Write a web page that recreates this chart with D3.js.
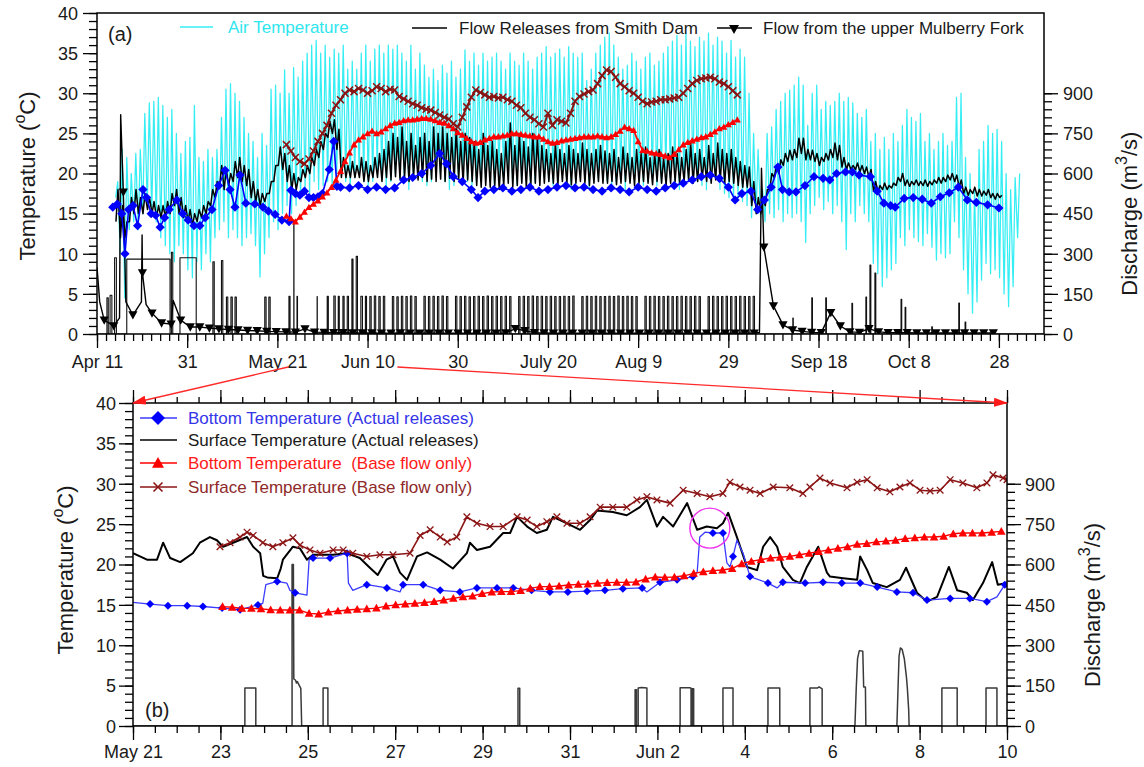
<!DOCTYPE html>
<html>
<head>
<meta charset="utf-8">
<script src="https://cdn.jsdelivr.net/npm/d3@7"></script>
<style>
  body { margin: 0; background: #fff; }
  svg { display: block; }
</style>
</head>
<body>
<script>
// ================= DATA =================
// Top panel: days counted from Apr 11
const topTickDays = [0, 20, 40, 60, 80, 100, 120, 140, 160, 180, 200];
const topTickLabels = ["Apr 11", "31", "May 21", "Jun 10", "30", "July 20", "Aug 9", "29", "Sep 18", "Oct 8", "28"];

// Bottom panel: days counted from May 21
const botTickDays = [0, 2, 4, 6, 8, 10, 12, 14, 16, 18, 20];
const botTickLabels = ["May 21", "23", "25", "27", "29", "31", "Jun 2", "4", "6", "8", "10"];

// Air temperature: daily maximum / minimum (°C), first day = 4
const airFirstDay = 4;
const airMax = [
  19,23,22,20,22.5,23,27.5,28.8,29,29.5,
  28.5,27,28,25,22.5,24,24.5,28.5,22,21.5,
  23,22,23,27,30.5,31.2,30,29,27,25,
  24,22,25,23.5,30.5,31,30,32.9,30,33.2,
  32,34,35,36,36.6,35,36,34.5,35.5,35,
  36,33,34,33,35,36,34,35.5,36,35,
  36,35.5,36,35,34,36,33,35,33.5,32,
  33,31.6,33.5,32.5,34,32,33,35.4,34,35,
  33.5,35,34,34.5,35,34,33,35,34,33.5,
  35,34,33,34.5,35,35.8,34.5,35,35.5,34.5,
  35.8,35,34.5,35,31.6,33,35,36,37,37.5,
  36,34.5,33,33.5,35,34,33,34.5,35,33.5,
  34,35,35.8,36.5,37.2,36,37.5,36.5,35.8,37,
  36.5,37.5,36,37,36.5,35,36.6,34.5,35.5,34.5,
  30,25,23,18,25,25.8,28,29,30,30.4,
  31,32,31,26,30,31,28,29,28.5,29,
  30,29,29.5,28.8,27.5,27,28,24,25,23,
  24.5,23,25,24,26,28,27,26.5,27.5,24,
  25,23,24,25,23.5,24,29.5,30,22,20,
  18,23,24,26,25,25.5,24,20,18,19.5,20
];
const airMin = [
  17,10,4.5,13,14,13,15,16,15,14,
  12,11,10,9,11,10,8,7,9,8,
  10,9,12,13,14,12,13,12,11,12,
  12.5,11,7.1,10,12,14,13,15,16,15,
  16,17,18,17.5,19,18,18.5,19,18,19.5,
  20,19,18,19.5,20,19,18.5,19,20,19.5,
  18,19,20,19.5,19,18,19.5,20,19,18.5,
  19,19.5,20,19,18,18.5,19.5,20,19,18.5,
  19,20,19.5,19,18,19,19.5,20,19,18.5,
  19,19.5,18,19,20,19.5,19,18.5,19,20,
  19,18,18.5,19.5,19,18,19,19.5,20,19,
  18.5,19,19.5,18,19,20,19,18.5,19,19.5,
  18.5,19,20,19.5,19,18,18.5,19,19.5,19,
  18.5,18,19,19.5,18,17.5,17,16.5,17,16.5,
  16,14.5,15,14.6,14,15,14.5,15.5,14,15,
  14.5,15,14,11.4,15,16,17,15.5,16.5,15,
  16,14,10.5,15,14,16,15,14,8.8,7.5,
  5.9,7,8,8.8,12,11,13,12,11.5,11,
  12.5,10.8,9.2,10,9.5,10,14,12,8,5,
  2.6,4,6.7,8.8,7.5,8,7,5,3.4,5.9,12
];

// Surface temperature, actual releases (top panel): daily high / low, first day = 4
const surfTopFirstDay = 4;
const surfTopHi = [
  18,16,14,17,18,17,17.5,17,16.5,16,
  16,16.5,17.5,18,17,16,15.5,15,15.5,16,
  16.5,18,19,21,20.5,20,21.5,22,21,20.5,
  19,18,17.5,17.5,19,21,23.3,22.5,21,20,
  19.5,20.5,21,22,23,24,25,26.5,26.7,25.5,
  22,21,21.5,21,22,21.5,21,22,22.5,
  23,24,25,24.5,25.8,24,25,23.5,24.5,25,24,25.8,25,
  25.8,25,24.5,25.5,24,25,24.5,
  24,23,25,23.5,24,23,22.5,
  24,26.3,23.5,25,24,23.3,25,24.5,23.5,
  23,22.5,23.8,23,22.5,23.5,23,22.5,23.8,23,22.5,23,23.5,22.8,
  22.5,23,22,23.3,22.5,22,23,22.5,23.3,22,22.5,23,22,22.5,23.3,22.5,22,
  23,23.8,22.5,23,22,23.5,22.5,23.8,23,22.5,23,22,21.5,
  21,20.8,19,17,16.7,18,20,21,21.7,22.5,
  22.9,23,24.4,24.4,23,22.9,22.5,22,22.5,23,
  23.8,23.5,22,21.3,21,21.3,21,20.8,20.5,19,
  18.5,18.8,18.5,18.8,19.5,20,19.2,19,19.2,19,
  19.2,19,19.2,19.5,19.5,19.8,20,19.8,19.2,18.3,
  18,18.3,18,17.8,18,17.5,17.5,17.3
];
const surfTopLo = [
  14,12,12,14,15,15,15,15.5,15,14.5,
  14.5,14.5,15,16,15,14.5,14,13.5,14,14.5,
  15,16,17,18.5,18,18.5,19,19.5,19,18.5,
  17,16.5,16,16.5,17.5,19,21,20.5,19,18,
  18,19,19.5,20,21,22,23,24.5,25,23,
  19.5,19.5,19.5,19.5,19.5,19,19,19.5,19.5,
  19,19.5,19.2,19.6,19.3,19.5,19,19.6,19.2,19.5,19,19.3,19,
  19.3,19,19.4,19,19.3,18.8,19.2,
  19,18.5,18.3,18.5,18.3,18.5,18,
  18.5,18.8,18.3,18.5,18.8,18.3,18.5,18.8,18.5,
  18.8,19,18.8,18.5,19,18.8,18.6,18.8,19,18.8,18.5,18.8,19,18.8,
  18.8,19,18.6,18.8,19,18.8,18.5,18.8,19,18.8,18.6,19,18.8,18.5,18.8,19,18.8,
  19,19.2,18.8,19,19.3,19,18.8,19.2,19,18.8,19,18.8,18.5,
  18.3,18.3,16,15,15,16,18,19.5,20,21,
  21.5,21.7,22,22.5,21.7,21.7,21.5,21,21.5,21.7,
  22,21.7,20.8,20.5,20.5,20.5,20.2,20,19.5,17.8,
  17.8,18,18,18.2,18.5,19,18.5,18.4,18.6,18.5,
  18.5,18.4,18.6,18.8,18.8,19,19.2,19,18.3,17.5,
  17.3,17.5,17.2,17.2,17.3,17,16.8,17
];

// Bottom temperature, actual releases (top panel)
const blueTopDay = [
  3.5,4.5,5.5,6.2,7,8,9,10.2,11,12,13,14,15,16,17.7,
  19,20.2,21.5,22.8,24,25.5,27,28.4,29.5,30.6,31.7,33,35,36.8,38,39.5,41,
  42.6,43,44,45,46,47,48,49,50,51.5,52.5,53.2,54,
  56,58,60,62,64,66,68,70,72,74,76,
  77.5,79,81,83,84.5,
  86,88,90,92,94,96,98,100,102,104,106,108,110,112,114,116,118,120,122,124,126,128,130,132,134,136,138,140,
  141.5,143,145,146.5,148,149.5,151,152,153.5,155,
  157,159,161,162.5,164,166,167.5,169,171.5,173,174.5,176,177,179,181,183,185,187,189,191,193,195,197.5,200
];
const blueTopT = [
  15.8,16.2,15,10,15.5,16,13.5,18,17,15,14.8,13.3,14.5,15.5,16.7,
  15,14.2,13.5,13.5,14.5,15.5,18.5,20.4,18,15.8,19.8,16.3,16.2,15.8,15.3,14.9,14.2,
  14,17.9,17.5,17.3,17.8,17,17,17.1,17.5,20.5,24,18.4,18.3,
  18.2,18.5,18,18.3,18,18.2,19.2,19.5,20,21,22.5,
  21.2,19.6,19,18,17,
  17.8,18,18.2,17.8,18,18.3,17.8,18,18.3,18.5,18.2,18.3,18,17.8,18.2,18,17.7,18.3,18,17.8,18.2,18.5,18.8,19.2,19.6,19.8,19.4,18.3,
  16.7,17.5,17.8,15.5,16.7,18.3,20.8,18,17.7,17.7,
  18.5,19.6,19.4,19.2,20,20.2,20.2,19.8,19.6,17.8,16.3,16,15.8,16.9,17,16.8,16.3,17.1,17.6,18.3,16.7,16.4,16.1,15.7
];

// Bottom temperature, base flow only (top panel): daily, first day = 42
const redTopFirstDay = 42;
const redTopT = [
  14.7,14.4,14.0,14.6,15.2,15.8,16.2,16.6,17.1,17.6,
  18.3,19.2,20.3,21.5,22.6,23.6,24.2,24.6,25,25.3,
  25,25.2,25.6,26,26.3,26.4,26.6,26.7,26.7,26.8,
  26.9,26.9,26.8,26.6,26.4,26.3,26,25.6,25.1,24.8,
  24.4,24,23.8,23.9,24.2,24.4,24.6,24.6,24.7,24.8,
  25,25,24.9,24.8,24.7,24.6,24.6,24.3,24,23.8,
  23.9,24.1,24.2,24.3,24.4,24.5,24.6,24.6,24.6,24.7,
  24.6,24.5,24.6,24.9,25.3,25.8,25.6,25.4,24,22.9,
  22.8,22.6,22.5,22.4,22.2,22,22.4,23,23.6,23.9,
  24.1,24.3,24.5,24.6,24.9,25.2,25.6,25.8,26.1,26.4,26.7
];

// Surface temperature, base flow only (top panel): daily, first day = 42
const maroonTopFirstDay = 42;
const maroonTopT = [
  23.6,22.8,22,21.5,21.2,21.8,22.8,24,25,26,
  27.5,28.5,29.2,30,30.4,30.2,30.6,30.4,30,30.3,
  30.8,30.6,30.2,30.5,30.4,29.6,29.3,29,28.7,28.5,
  28.2,28,27.9,27.6,27.3,27,26.8,26.2,25.8,27,
  28.3,29.5,30.4,30.1,29.8,29.5,29.6,29.4,29.5,29.2,
  29,28.5,28.2,27.5,27,26.7,26.2,25.8,27.5,26,
  26.7,26.5,26.3,27.5,29,29.6,29.9,30.2,30.4,31.2,
  32.2,32.9,32.7,32,31.2,30.8,30.3,30,29.5,29,
  28.7,28.9,29,29.2,29.2,29.3,29.4,29.5,30,30.6,
  31.2,31.6,31.8,31.9,32,31.8,31.4,31.2,30.8,30.3,29.8
];

// Flow releases from Smith Dam (top panel): [start day, end day, m3/s]
const releaseTop = [
  [2.2,2.5,135],[2.9,3.3,145],[3.9,4.3,285],[6.6,16.2,280],[16.5,16.8,305],[18.4,22,285],
  [25.7,26,270],[27.6,27.9,275],[28.7,29,138],[29.7,30,138],[30.6,30.9,138],
  [37.2,37.5,138],[38.1,38.4,138],
  [42.56,42.81,141],[43.64,43.68,425],[44.35,44.46,141],[48.81,48.85,140],
  [51.05,51.3,141],[52.52,52.83,142],[53.5,53.73,141],[54.53,54.8,141],[55.49,55.77,141],
  [56.52,56.77,280],[57.48,57.76,290],[58.51,58.86,141],[59.52,59.77,141],
  [60.5,60.8,140],[61.5,61.8,142],[62.5,62.8,140],[63.5,63.8,141],[65.5,65.8,140],[66.5,66.8,139],
  [67.5,67.8,141],[68.5,68.8,140],[69.5,69.8,142],[70.5,70.8,140],[72.5,72.8,141],[73.5,73.8,140],
  [74.5,74.8,141],[75.5,75.8,140],[76.5,76.8,142],[77.5,77.8,140],[79.5,79.8,141],[80.5,80.8,140],
  [81.5,81.8,141],[82.5,82.8,139],[83.5,83.8,140],[84.5,84.8,141],[85.5,85.8,140],[86.5,86.8,142],
  [87.5,87.8,140],[88.5,88.8,141],[89.5,89.8,140],[90.5,90.8,141],[91.5,91.8,140],[93.5,93.8,140],
  [94.5,94.8,141],[95.5,95.8,140],[96.5,96.8,142],[97.5,97.8,140],[98.5,98.8,141],[99.5,99.8,140],
  [100.5,100.8,141],[101.5,101.8,140],[102.5,102.8,140],[103.5,103.8,141],[104.5,104.8,140],[105.5,105.8,142],
  [107.5,107.8,140],[108.5,108.8,141],[109.5,109.8,140],[110.5,110.8,141],[111.5,111.8,140],[112.5,112.8,140],
  [113.5,113.8,141],[114.5,114.8,140],[115.5,115.8,142],[116.5,116.8,140],[117.5,117.8,141],[118.5,118.8,140],
  [119.5,119.8,140],[121.5,121.8,141],[122.5,122.8,140],[123.5,123.8,141],[124.5,124.8,140],[125.5,125.8,140],
  [126.5,126.8,141],[127.5,127.8,140],[128.5,128.8,140],[129.5,129.8,141],[130.5,130.8,140],[131.5,131.8,140],
  [132.5,132.8,141],[133.5,133.8,140],[135.5,135.8,140],[136.5,136.8,141],[137.5,137.8,140],[138.5,138.8,140],
  [139.5,139.8,141],[140.5,140.8,140],[141.5,141.8,140],[142.5,142.8,141],[143.5,143.8,140],[144.5,144.8,140],
  [145.5,145.8,141],
  [154.3,154.4,60],[158.5,158.65,135],[161.6,161.75,135],[167.4,167.55,115],[170.5,170.65,138],
  [171.4,171.6,258],[172.5,172.7,228],[178.3,178.45,130],[179.2,179.35,100],[185.1,185.25,27],
  [191.1,191.25,116],[192.5,192.65,45]
];

// Flow from the upper Mulberry Fork (top panel): marked values every 2.12 days from day 1.6
const mulberryFirstDay = 1.6;
const mulberryStep = 2.12;
const mulberryQ = [
  52,30,530,71,228,78,41,37,52,26,26,22,19,17,15,13,12,10,9,8,7,19,7,6,
  5,5,4,4,4,3,3,4,3,3,3,3,3,3,3,3,3,3,4,20,12,5,4,3,3,3,3,3,3,3,3,3,3,3,3,3,3,3,3,3,3,3,3,3,3,
  325,105,34,15,10,6,5,80,30,8,6,20,8,5,5,5,4,4,4,4,4,4,4,4,4
];
// unmarked peak readings between the marked values: [day, m3/s]
const mulberryPeaks = [[0,250],[0.6,120],[5.0,60],[5.25,820],[6.4,120],[9.85,120],[10.0,370],[10.9,110],[16.9,125],[146.9,6],[147.35,620]];

// Bottom panel (days from May 21)
const surfBot = [
  [0,21.4],[0.32,20.6],[0.55,20.6],[0.69,22.7],[0.85,20.8],[1.08,20.3],[1.37,21.4],[1.53,22.7],[1.76,23.4],[1.92,23],
  [2.06,22.2],[2.29,22.7],[2.61,23.4],[2.75,22.2],[2.91,21.4],[2.98,18.6],[3.07,18.4],[3.3,18.3],[3.38,19.5],[3.43,20.6],
  [3.66,22.2],[3.82,22],[3.98,20.6],[4.12,21.2],[4.35,21.2],[4.58,21.2],[4.9,21.4],[5.19,20.8],[5.42,19.6],[5.6,18.7],
  [5.8,20.6],[5.95,21],[6.11,19],[6.27,18.1],[6.5,21],[6.73,21.5],[7.03,20.6],[7.32,19.5],[7.64,21.4],[7.71,22.7],
  [7.87,21.8],[8.17,22.2],[8.47,23.9],[8.63,23.9],[8.79,25.9],[9.02,24.7],[9.24,23.9],[9.47,24.3],[9.61,25.9],[9.93,25.1],
  [10.23,24.3],[10.46,25.5],[10.62,26.7],[10.98,26.5],[11.3,26.1],[11.6,27.1],[11.76,28],[11.99,24.7],[12.13,25.9],[12.36,24.7],
  [12.68,27.6],[12.91,24.3],[13.13,24.7],[13.36,24.5],[13.5,25.1],[13.62,26.4],[13.82,23.4],[14.05,19.7],[14.28,19.3],[14.42,22.2],
  [14.58,23.4],[14.74,22.2],[14.87,19.7],[15.1,18.1],[15.26,17.7],[15.42,19.7],[15.68,22.2],[15.88,19],[15.95,18.5],[16.25,18.3],
  [16.57,18.1],[16.64,21],[16.8,19.3],[16.93,17.7],[17.25,17.2],[17.55,18.1],[17.69,19.6],[17.94,16.5],[18.17,15.4],[18.4,16],
  [18.67,19.7],[18.86,16.8],[19.08,16.5],[19.22,15.6],[19.45,17.7],[19.66,20.3],[19.79,17.5],[20,17.7]
];
const blueBot = [
  [0,15.3],[0.39,15.1],[0.8,14.9],[1.24,14.9],[1.6,14.8],[2.04,14.6],[2.45,14.4],[2.86,15],[2.97,15.2],[3.04,17.5],
  [3.3,17.9],[3.52,17.7],[3.59,16.8],[3.71,16.5],[3.98,16.2],[4.03,20.6],[4.12,20.8],[4.51,20.8],[4.9,21.4],[4.93,17.7],
  [5.03,16.8],[5.35,17.5],[5.81,17.1],[6.11,16.6],[6.18,17.5],[6.64,17.5],[7.03,16.8],[7.48,16.6],[7.87,17.1],[8.33,17.1],
  [8.7,17.1],[9.12,16.8],[9.54,16.6],[9.95,16.6],[10.39,16.7],[10.8,16.8],[11.21,17],[11.65,17.1],[11.76,16.6],[12.06,17.8],
  [12.45,18.1],[12.81,18.5],[12.91,19],[12.97,23.4],[13.09,24],[13.27,23.9],[13.5,23.9],[13.59,20.2],[13.66,19.7],[13.73,21],
  [13.82,23],[13.96,21.4],[14.12,18.5],[14.53,17.7],[14.74,17.1],[14.87,17.8],[15.38,17.7],[15.79,17.8],[16.22,17.7],[16.64,17.7],
  [17.03,17.2],[17.48,16.6],[17.85,16.5],[18.17,15.6],[18.7,15.8],[19.15,15.8],[19.54,15.4],[19.77,16],[19.95,17.5]
];
const blueBotMarkDays = [0.39,0.8,1.24,1.6,2.04,2.45,2.86,3.3,3.71,4.12,4.51,4.9,5.35,5.81,6.18,6.64,7.03,7.48,7.87,8.33,
  8.7,9.12,9.54,9.95,10.39,10.8,11.21,11.65,12.06,12.45,12.81,13.27,13.5,13.73,14.12,14.53,14.87,15.38,15.79,16.22,
  16.64,17.03,17.48,17.85,18.17,18.7,19.15,19.54,19.95];

// Bottom temperature, base flow only (bottom panel): every 0.22 day from day 2.05
const redBotFirstDay = 2.05;
const redBotStep = 0.22;
const redBotT = [
  14.78,14.7,14.57,14.57,14.5,14.4,14.36,14.36,14.36,13.95,
  13.87,14.1,14.25,14.36,14.45,14.5,14.6,14.85,15.0,15.1,
  15.19,15.3,15.4,15.6,15.8,16.0,16.1,16.4,16.6,16.64,
  16.64,16.76,17.05,17.26,17.26,17.34,17.46,17.54,17.59,17.67,
  17.75,17.79,17.79,17.83,18.2,18.45,18.41,18.45,18.6,18.9,
  19.1,19.24,19.32,19.5,20.1,20.4,20.6,20.8,20.9,21,
  21.2,21.4,21.6,21.8,22.0,22.2,22.5,22.6,22.8,22.9,
  23.0,23.2,23.3,23.4,23.4,23.5,23.8,23.9,23.9,23.9,
  24.0,24.1
];
const maroonBot = [
  [1.99,22.2],[2.22,22.7],[2.45,23.4],[2.61,24],[2.75,23.6],[2.97,22.7],[3.2,22.2],[3.43,22.7],[3.66,23.3],[3.82,22.4],
  [4.05,21.8],[4.28,21.4],[4.58,21.8],[4.81,21.8],[5.03,21.4],[5.35,21],[5.65,21.2],[5.95,21.2],[6.34,21.4],[6.57,23.6],
  [6.8,24.3],[7.03,23.4],[7.19,22.8],[7.41,23.4],[7.64,25.9],[7.87,25.1],[8.17,24.7],[8.47,24.7],[8.79,25.9],[9.02,25.5],
  [9.24,24.7],[9.47,25.3],[9.7,25.9],[9.93,25.1],[10.23,25.1],[10.46,25.9],[10.69,27.1],[10.98,27.1],[11.3,27.1],[11.53,28],
  [11.76,28.4],[11.99,28],[12.29,27.6],[12.59,29.2],[12.91,28.8],[13.2,28.4],[13.5,28.8],[13.66,30.2],[13.89,29.6],[14.12,29.2],
  [14.35,28.8],[14.65,29.6],[15.03,29.5],[15.33,28.8],[15.49,29.6],[15.72,30.7],[15.95,30.1],[16.34,29.5],[16.57,30.2],[16.8,30.5],
  [17.03,29.5],[17.32,29],[17.55,29.6],[17.78,30.1],[18.01,29.2],[18.24,29.1],[18.47,29.2],[18.7,30.5],[18.99,30.1],[19.31,29.5],
  [19.54,30.1],[19.68,31.1],[19.91,30.7],[20,30.5]
];
// Smith Dam releases (bottom panel): [day, m3/s]
const releaseBot = [
  [0,0],[2.56,0],[2.56,141],[2.81,141],[2.81,0],[3.64,0],[3.64,600],[3.67,600],[3.68,175],[3.72,170],[3.74,160],[3.76,165],
  [3.84,140],[3.86,0],[4.35,0],[4.35,141],[4.46,141],[4.46,0],[8.81,0],[8.81,140],[8.85,140],[8.85,0],
  [11.49,0],[11.49,135],[11.52,135],[11.52,0],[11.56,0],[11.56,141],[11.64,143],[11.76,141],[11.76,0],
  [12.52,0],[12.52,142],[12.74,142],[12.77,140],[12.77,0],[12.8,0],[12.8,138],[12.83,138],[12.83,0],
  [13.5,0],[13.5,141],[13.73,141],[13.73,0],[14.53,0],[14.53,141],[14.8,141],[14.8,0],
  [15.49,0],[15.49,141],[15.66,141],[15.7,145],[15.77,138],[15.77,0],
  [16.52,0],[16.55,140],[16.58,250],[16.62,280],[16.7,278],[16.72,145],[16.76,145],[16.77,0],
  [17.48,0],[17.51,160],[17.53,260],[17.56,290],[17.6,285],[17.65,250],[17.7,180],[17.72,140],[17.75,60],[17.76,0],
  [18.51,0],[18.51,141],[18.86,141],[18.86,0],[19.52,0],[19.52,141],[19.77,141],[19.77,0],[20,0]
];

// ================= DRAWING =================
const W = 1144, H = 767;
const FONT = '"Liberation Sans", Arial, Helvetica, sans-serif';
const INK = "#1a1a1a";
const CYAN = "#35eef4";
const BLUE = "#0000ff";
const RED = "#ff0000";
const MAROON = "#8b1414";

const svg = d3.select("body").append("svg").attr("width", W).attr("height", H)
  .style("font-family", FONT);

const xTop = d3.scaleLinear().domain([0, 210]).range([97, 1044]);
const yTop = d3.scaleLinear().domain([0, 40]).range([334, 13]);
const qTop = d3.scaleLinear().domain([0, 1200]).range([334, 13]);
const xBot = d3.scaleLinear().domain([0, 20]).range([133, 1007]);
const yBot = d3.scaleLinear().domain([0, 40]).range([726, 403]);
const qBot = d3.scaleLinear().domain([0, 1200]).range([726, 403]);

const defs = svg.append("defs");
function clip(id, x, y) {
  defs.append("clipPath").attr("id", id).append("rect")
    .attr("x", x.range()[0]).attr("y", y.range()[1])
    .attr("width", x.range()[1] - x.range()[0]).attr("height", y.range()[0] - y.range()[1]);
}
clip("clipTop", xTop, yTop);
clip("clipBot", xBot, yBot);

defs.append("marker").attr("id", "arrowRed").attr("viewBox", "0 0 14 9")
  .attr("refX", 13).attr("refY", 4.5).attr("markerWidth", 14).attr("markerHeight", 9)
  .attr("markerUnits", "userSpaceOnUse").attr("orient", "auto")
  .append("path").attr("d", "M0,0L14,4.5L0,9Z").attr("fill", "#ff1a1a");

// marker shapes
const diamond = r => `M0,${-r}L${r},0L0,${r}L${-r},0Z`;
const triUp = r => `M0,${-r}L${r},${r * 0.8}L${-r},${r * 0.8}Z`;
const triDown = r => `M${-r},${-r * 0.8}L${r},${-r * 0.8}L0,${r}Z`;
const cross = r => `M${-r},${-r}L${r},${r}M${-r},${r}L${r},${-r}`;

function drawMarks(g, pts, x, y, shape, fill, stroke, sw) {
  g.append("g").selectAll("path").data(pts).join("path")
    .attr("transform", d => `translate(${x(d[0])},${y(d[1])})`)
    .attr("d", shape)
    .attr("fill", fill).attr("stroke", stroke || "none").attr("stroke-width", sw || 0);
}
function drawLine(g, pts, x, y, color, width) {
  const line = d3.line().x(d => x(d[0])).y(d => y(d[1]));
  return g.append("path").attr("d", line(pts)).attr("fill", "none")
    .attr("stroke", color).attr("stroke-width", width).attr("stroke-linejoin", "round");
}

// ---------- axes ----------
function addAxis(axis, tx, ty) {
  const g = svg.append("g").attr("transform", `translate(${tx},${ty})`).call(axis);
  g.select(".domain").remove();
  g.selectAll(".tick line").attr("stroke", "#000").attr("stroke-width", 1.3);
  g.selectAll("text").attr("font-family", FONT).attr("font-size", 18).attr("fill", INK);
  return g;
}
function panelAxes(x, y, q, opts) {
  const x0 = x.range()[0], x1 = x.range()[1], yb = y.range()[0], yt = y.range()[1];
  // bottom
  addAxis(d3.axisBottom(x).tickValues(opts.minorX).tickSize(7).tickFormat(""), 0, yb);
  addAxis(d3.axisBottom(x).tickValues(opts.majorX).tickSize(14).tickFormat((d, i) => opts.labelsX[i]), 0, yb)
    .selectAll("text").attr("y", opts.labelDy).attr("dy", null);
  if (opts.topTicks) {
    addAxis(d3.axisTop(x).tickValues(opts.minorX).tickSize(6).tickFormat(""), 0, yt);
    addAxis(d3.axisTop(x).tickValues(opts.majorX).tickSize(13).tickFormat(""), 0, yt);
  }
  // left
  addAxis(d3.axisLeft(y).tickValues(d3.range(0, 41, 1)).tickSize(8).tickFormat(""), x0, 0);
  addAxis(d3.axisLeft(y).tickValues(d3.range(0, 41, 5)).tickSize(14), x0, 0)
    .selectAll("text").attr("x", -opts.leftPad).attr("dy", "0.35em");
  // right
  addAxis(d3.axisRight(q).tickValues(d3.range(0, 901, 30)).tickSize(8).tickFormat(""), x1, 0);
  addAxis(d3.axisRight(q).tickValues(d3.range(0, 901, 150)).tickSize(14), x1, 0)
    .selectAll("text").attr("x", opts.rightPad).attr("dy", "0.35em");
  // frame
  svg.append("rect").attr("x", x0).attr("y", yt).attr("width", x1 - x0).attr("height", yb - yt)
    .attr("fill", "none").attr("stroke", "#000").attr("stroke-width", 1.5);
}

// axis titles with superscripts
function yTitle(tx, ty, before, sup, after) {
  const t = svg.append("text").attr("transform", `translate(${tx},${ty}) rotate(-90)`)
    .attr("text-anchor", "middle").attr("font-size", 22).attr("fill", INK);
  t.append("tspan").text(before);
  t.append("tspan").attr("font-size", 16).attr("dy", -10).text(sup);
  t.append("tspan").attr("font-size", 22).attr("dy", 10).text(after);
}

// ================= TOP PANEL =================
const gTop = svg.append("g").attr("clip-path", "url(#clipTop)");

// air temperature, daily min/max
const airPts = [];
airMax.forEach((mx, i) => {
  const d = airFirstDay + i;
  if (airMin[i] !== undefined) airPts.push([d + 0.15, airMin[i]]);
  airPts.push([d + 0.6, mx]);
});
drawLine(gTop, airPts, xTop, yTop, CYAN, 1.25);

// Smith Dam releases
const relTopPts = [[0, 0]];
releaseTop.forEach(([s, e, q]) => relTopPts.push([s, 0], [s, q], [e, q], [e, 0]));
relTopPts.push([210, 0]);
drawLine(gTop, relTopPts, xTop, qTop, "#111", 1.1);

// upper Mulberry Fork
const mulMarks = mulberryQ.map((q, k) => [mulberryFirstDay + k * mulberryStep, q]);
const mulLine = mulMarks.concat(mulberryPeaks).sort((a, b) => a[0] - b[0]);
drawLine(gTop, mulLine, xTop, qTop, "#000", 1.4);

// surface temperature (actual), daily low/high
const surfTopPts = [];
surfTopHi.forEach((hi, i) => {
  const d = surfTopFirstDay + i;
  if (surfTopLo[i] !== undefined) surfTopPts.push([d + 0.2, surfTopLo[i]]);
  surfTopPts.push([d + 0.65, hi]);
});
drawLine(gTop, surfTopPts, xTop, yTop, "#000", 1.5);

// bottom temperature (actual)
const blueTopPts = blueTopDay.map((d, i) => [d, blueTopT[i]]);
drawLine(gTop, blueTopPts, xTop, yTop, BLUE, 1.6);
drawMarks(gTop, blueTopPts, xTop, yTop, diamond(4.6), BLUE);

// bottom temperature (base flow only)
const redTopPts = redTopT.map((t, i) => [redTopFirstDay + i, t]);
drawLine(gTop, redTopPts, xTop, yTop, RED, 1.7);
drawMarks(gTop, redTopPts, xTop, yTop, triUp(3.5), RED);

// surface temperature (base flow only)
const maroonTopPts = maroonTopT.map((t, i) => [maroonTopFirstDay + i, t]);
drawLine(gTop, maroonTopPts, xTop, yTop, MAROON, 2);
drawMarks(gTop, maroonTopPts, xTop, yTop, cross(3.5), "none", MAROON, 1.5);

// Mulberry markers on top
drawMarks(gTop, mulMarks, xTop, qTop, triDown(4.6), "#000");

panelAxes(xTop, yTop, qTop, {
  minorX: d3.range(0, 211, 2), majorX: topTickDays, labelsX: topTickLabels,
  labelDy: 34, leftPad: 19, rightPad: 19, topTicks: false
});

// legend (top)
{
  const ly = yTop.range()[1] + 14;
  const lg = svg.append("g").attr("font-size", 17);
  lg.append("line").attr("x1", 180).attr("x2", 213).attr("y1", ly).attr("y2", ly)
    .attr("stroke", CYAN).attr("stroke-width", 1.7);
  lg.append("text").attr("x", 228).attr("y", ly + 6).attr("fill", "#2ee6ee").text("Air Temperature");
  lg.append("line").attr("x1", 412).attr("x2", 447).attr("y1", ly + 1).attr("y2", ly + 1)
    .attr("stroke", "#000").attr("stroke-width", 1.4);
  lg.append("text").attr("x", 459).attr("y", ly + 7).attr("fill", INK).text("Flow Releases from Smith Dam");
  lg.append("line").attr("x1", 717).attr("x2", 752).attr("y1", ly + 1).attr("y2", ly + 1)
    .attr("stroke", "#000").attr("stroke-width", 1.4);
  lg.append("path").attr("transform", `translate(734,${ly + 2})`).attr("d", triDown(5)).attr("fill", "#000");
  lg.append("text").attr("x", 763).attr("y", ly + 7).attr("fill", INK).text("Flow from the upper Mulberry Fork");
}
svg.append("text").attr("x", xTop.range()[0] + 11).attr("y", yTop.range()[1] + 28)
  .attr("font-size", 20).attr("fill", INK).text("(a)");

yTitle(35, 176, "Temperature (", "o", "C)");
yTitle(1137, (qTop(0) + qTop(900)) / 2, "Discharge (m", "3", "/s)");

// ================= BOTTOM PANEL =================
const gBot = svg.append("g").attr("clip-path", "url(#clipBot)");

drawLine(gBot, releaseBot, xBot, qBot, "#3a3a3a", 1.5);
drawLine(gBot, surfBot, xBot, yBot, "#000", 2);

drawLine(gBot, blueBot, xBot, yBot, "#3b3bff", 1.3);
const blueLookup = new Map(blueBot.map(p => [p[0], p[1]]));
const blueMarks = blueBotMarkDays.filter(d => blueLookup.has(d)).map(d => [d, blueLookup.get(d)]);
drawMarks(gBot, blueMarks, xBot, yBot, diamond(4), BLUE);

const redBotPts = redBotT.map((t, i) => [redBotFirstDay + i * redBotStep, t]);
drawLine(gBot, redBotPts, xBot, yBot, RED, 1.4);
drawMarks(gBot, redBotPts, xBot, yBot, triUp(4.3), RED);

drawLine(gBot, maroonBot, xBot, yBot, MAROON, 1.6);
drawMarks(gBot, maroonBot, xBot, yBot, cross(3.3), "none", MAROON, 1.3);

// highlighted event
svg.append("circle").attr("cx", xBot(13.2)).attr("cy", yBot(24.5)).attr("r", 20)
  .attr("fill", "none").attr("stroke", "#ee30ee").attr("stroke-width", 1.4);

panelAxes(xBot, yBot, qBot, {
  minorX: d3.range(0, 20.01, 0.5), majorX: botTickDays, labelsX: botTickLabels,
  labelDy: 32, leftPad: 17, rightPad: 18, topTicks: true
});

// legend (bottom)
{
  const rows = [
    { label: "Bottom Temperature (Actual releases)", text: "#3535e8", line: "#3b3bff", mark: diamond(7), fill: BLUE, stroke: null },
    { label: "Surface Temperature (Actual releases)", text: INK, line: "#000", mark: null },
    { label: "Bottom Temperature  (Base flow only)", text: "#ff1a1a", line: RED, mark: triUp(6), fill: RED, stroke: null },
    { label: "Surface Temperature (Base flow only)", text: "#8e2a2a", line: MAROON, mark: cross(4.5), fill: "none", stroke: MAROON }
  ];
  const rowY = [15, 37, 60, 84];
  const x0 = xBot.range()[0], top = yBot.range()[1];
  const lg = svg.append("g").attr("font-size", 17);
  rows.forEach((r, i) => {
    const y = top + rowY[i];
    lg.append("line").attr("x1", x0 + 7).attr("x2", x0 + 44).attr("y1", y).attr("y2", y)
      .attr("stroke", r.line).attr("stroke-width", 1.6);
    if (r.mark) lg.append("path").attr("transform", `translate(${x0 + 25},${y})`).attr("d", r.mark)
      .attr("fill", r.fill).attr("stroke", r.stroke || "none").attr("stroke-width", 1.6);
    lg.append("text").attr("x", x0 + 55).attr("y", y + 6).attr("fill", r.text)
      .style("white-space", "pre").attr("xml:space", "preserve").text(r.label);
  });
}
svg.append("text").attr("x", xBot.range()[0] + 12).attr("y", yBot.range()[0] - 9)
  .attr("font-size", 20).attr("fill", INK).text("(b)");

yTitle(73, 570, "Temperature (", "o", "C)");
yTitle(1100, (qBot(0) + qBot(900)) / 2, "Discharge (m", "3", "/s)");

// ================= ZOOM ARROWS =================
function arrow(d0, d1) {
  svg.append("line")
    .attr("x1", xTop(d0)).attr("y1", yTop(0) + 33)
    .attr("x2", d1 === 0 ? xBot(0) : xBot(20)).attr("y2", yBot(40))
    .attr("stroke", "#ff2a2a").attr("stroke-width", 1.3).attr("marker-end", "url(#arrowRed)");
}
arrow(42.4, 0);
arrow(66.6, 20);
</script>
</body>
</html>
